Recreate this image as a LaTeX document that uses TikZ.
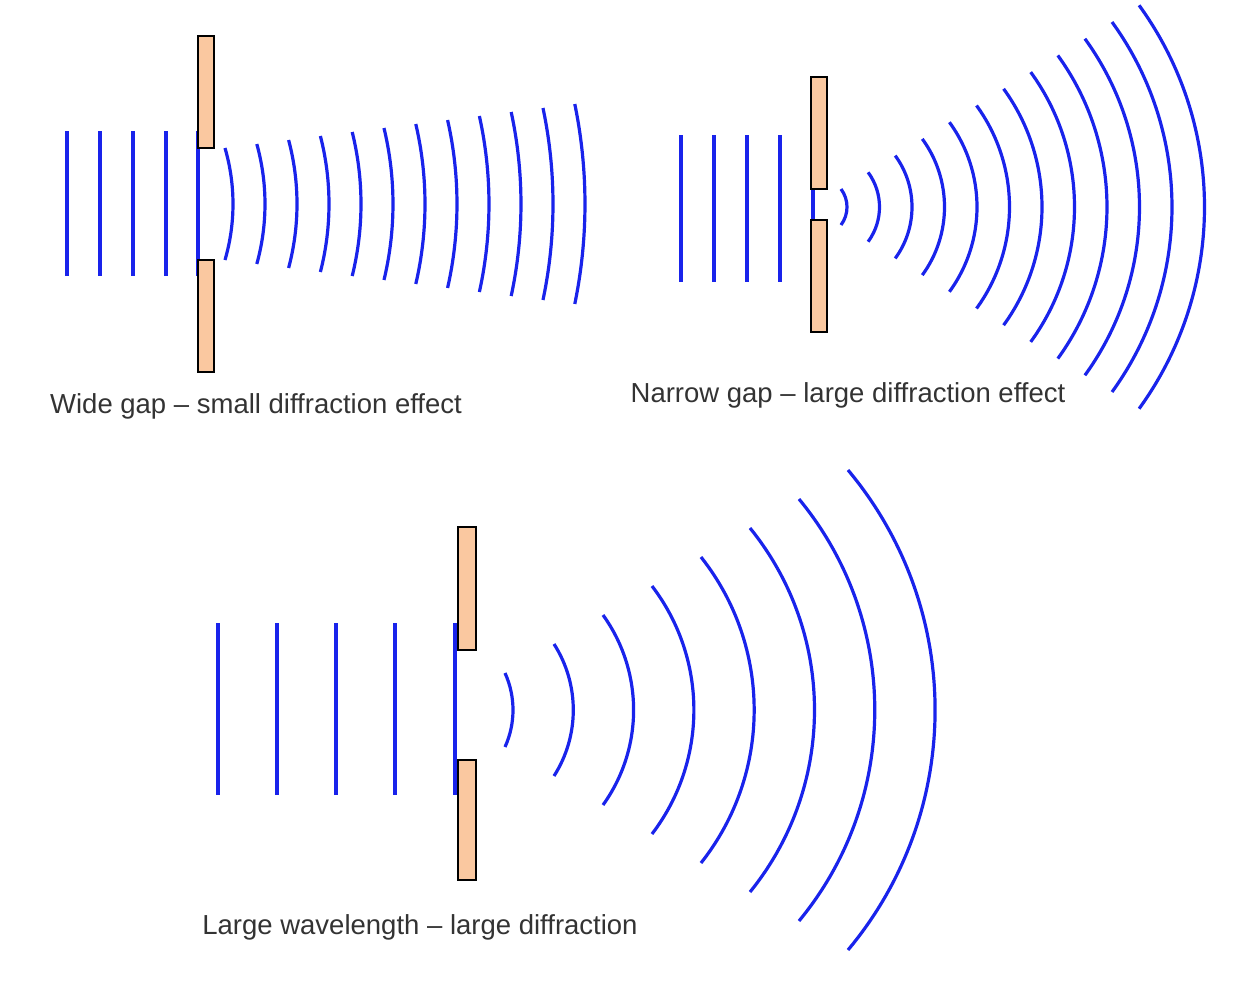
\documentclass[tikz,border=0pt]{standalone}
\usepackage{fontspec}
\setmainfont{Liberation Sans}
\definecolor{wave}{RGB}{25,35,235}
\definecolor{peach}{RGB}{250,200,160}
\begin{document}
\begin{tikzpicture}[x=1pt,y=-1pt,
  wv/.style={draw=wave,line width=3.2pt},
  bar/.style={draw=black,line width=2pt,fill=peach},
  lbl/.style={font=\fontsize{27.5}{30}\selectfont,text=black!80}]
\useasboundingbox (0,0) rectangle (1248,994);
% ---- top left
\foreach \x in {67,100,133,166,198} \draw[wv] (\x,131) -- (\x,276);
\foreach \i in {0,...,11}{
  \pgfmathsetmacro\xm{233+32*\i}
  \pgfmathsetmacro\h{56+4*\i}
  \pgfmathsetmacro\s{8+0.2*\i}
  \pgfmathsetmacro\R{0.5*\h*(\h/\s)+0.5*\s}
  \pgfmathsetmacro\a{asin(\h/\R)}
  \draw[wv] ({\xm-\R},204) ++(-\a:\R) arc[start angle=-\a,end angle=\a,radius=\R];
}
\node[bar,minimum width=16pt,minimum height=112pt,inner sep=0pt] (tl1) at (206,92) {};
\node[bar,minimum width=16pt,minimum height=112pt,inner sep=0pt] (tl2) at (206,316) {};
\node[lbl] (tlt) at (256,406) {Wide gap – small diffraction effect};
% ---- top right
\foreach \x in {681,714,747,780,813} \draw[wv] (\x,135) -- (\x,282);
\foreach \i in {0,...,11}{
  \pgfmathsetmacro\xm{847+32.5*\i}
  \pgfmathsetmacro\h{18+16.7*\i}
  \pgfmathsetmacro\s{6+5.4*\i}
  \pgfmathsetmacro\R{0.5*\h*(\h/\s)+0.5*\s}
  \pgfmathsetmacro\a{asin(\h/\R)}
  \draw[wv] ({\xm-\R},207) ++(-\a:\R) arc[start angle=-\a,end angle=\a,radius=\R];
}
\node[bar,minimum width=16pt,minimum height=112pt,inner sep=0pt] (tr1) at (819,133) {};
\node[bar,minimum width=16pt,minimum height=112pt,inner sep=0pt] (tr2) at (819,276) {};
\node[lbl] (trt) at (848,395) {Narrow gap – large diffraction effect};
% ---- bottom
\foreach \x in {218,277,336,395,455} \draw[wv] (\x,623) -- (\x,795);
\foreach \i in {0,...,7}{
  \pgfmathsetmacro\xm{513+60.3*\i}
  \pgfmathsetmacro\h{37+29*\i}
  \pgfmathsetmacro\s{8+11.3*\i}
  \pgfmathsetmacro\R{0.5*\h*(\h/\s)+0.5*\s}
  \pgfmathsetmacro\a{asin(\h/\R)}
  \draw[wv] ({\xm-\R},710) ++(-\a:\R) arc[start angle=-\a,end angle=\a,radius=\R];
}
\node[bar,minimum width=18pt,minimum height=123pt,inner sep=0pt] (b1) at (467,588) {};
\node[bar,minimum width=18pt,minimum height=120pt,inner sep=0pt] (b2) at (467,820) {};
\node[lbl] (bt) at (420,927) {Large wavelength – large diffraction};
\end{tikzpicture}
\end{document}
